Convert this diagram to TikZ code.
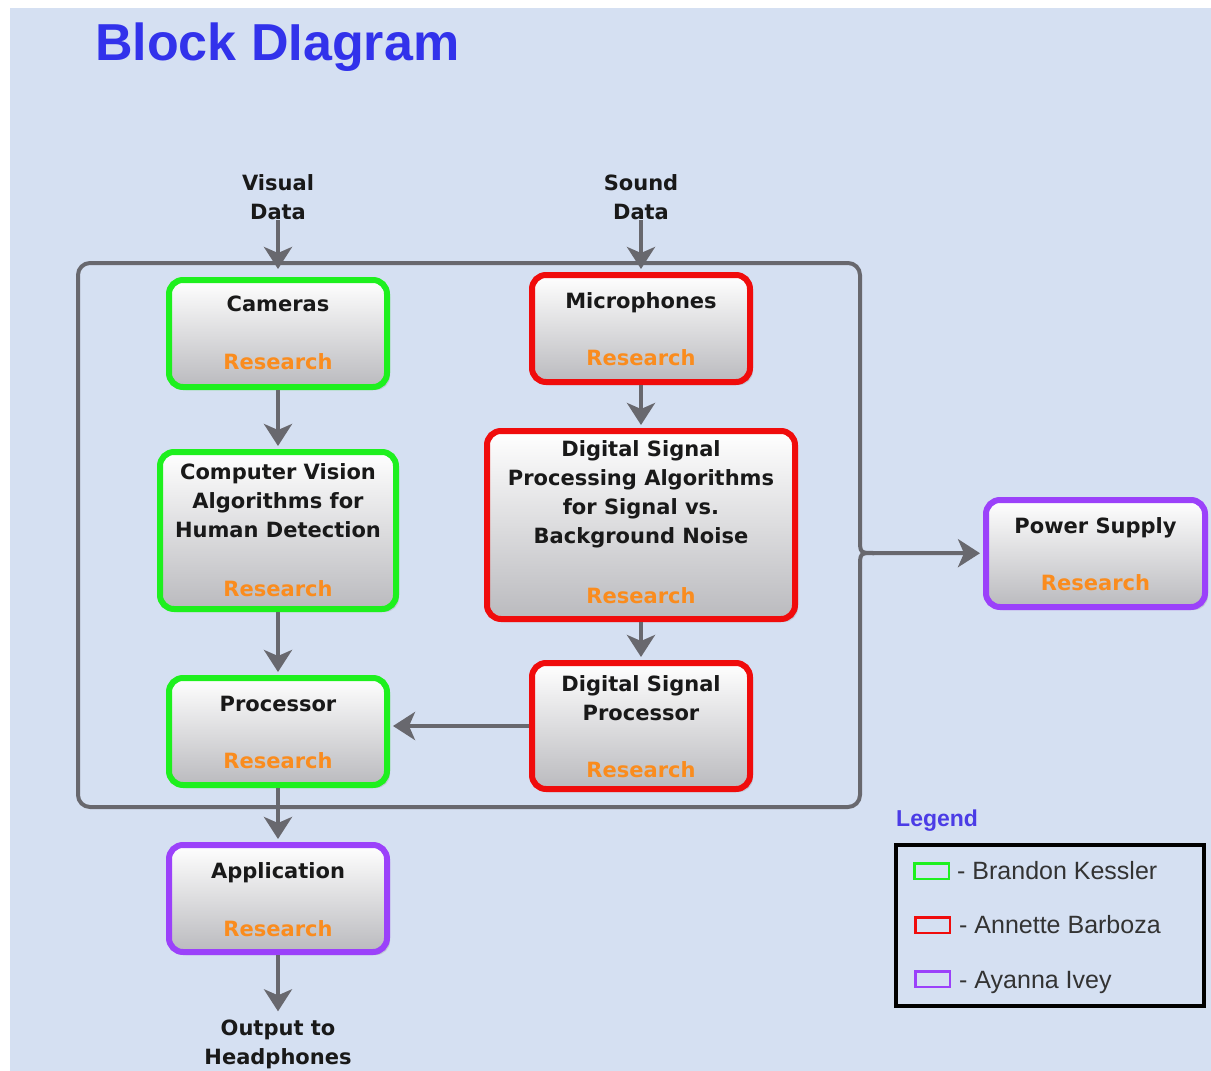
\documentclass[tikz,border=0pt]{standalone}
\usepackage{fontspec}
\newfontfamily\dv{DejaVu Sans}
\newfontfamily\lib{Liberation Sans}
\usetikzlibrary{arrows.meta,shadows}
\definecolor{bgblue}{RGB}{213,224,242}
\definecolor{bgreen}{RGB}{30,240,30}
\definecolor{bred}{RGB}{240,12,12}
\definecolor{bpurple}{RGB}{155,65,250}
\definecolor{conngray}{RGB}{104,104,110}
\definecolor{resorange}{RGB}{250,140,30}
\definecolor{titleblue}{RGB}{50,50,235}
\definecolor{legblue}{RGB}{75,60,230}
\definecolor{boxgray}{RGB}{186,186,190}
\tikzset{
  box/.style={rounded corners=14pt, line width=6pt, draw=#1, top color=white, bottom color=boxgray,
    drop shadow={shadow xshift=3pt,shadow yshift=-3pt,opacity=0.25}, inner sep=0pt},
  lbl/.style={font=\dv\bfseries\fontsize{21}{29}\selectfont, inner sep=0pt, align=center, text=black!90},
  res/.style={lbl, text=resorange},
  conn/.style={draw=conngray, line width=4pt, shorten >=3pt, -{Stealth[length=22pt,width=28pt,inset=6pt]}},
  framestyle/.style={draw=conngray, line width=4pt, line cap=round, line join=round},
  legtxt/.style={font=\lib\fontsize{25}{28}\selectfont, text=black!80, inner sep=0pt, anchor=base west},
  swatch/.style={draw=#1, line width=2.5pt, minimum width=34.5pt, minimum height=15.5pt, inner sep=0pt}
}
\begin{document}
\begin{tikzpicture}[x=1pt,y=-1pt]
\useasboundingbox (0,0) rectangle (1211,1071);
\fill[white] (0,0) rectangle (1211,1071);
\fill[bgblue] (10,8) rectangle (1211,1071);

% title
\node[font=\lib\bfseries\fontsize{52}{60}\selectfont, text=titleblue, anchor=base west, inner sep=0pt] (title) at (95,60) {Block DIagram};

% frame
\draw[framestyle, rounded corners=12pt] (860,538) -- (860,263) -- (78,263) -- (78,807) -- (860,807) -- (860,568);
\draw[framestyle] (860,538) .. controls (860,553) .. (874,553);
\draw[framestyle] (860,568) .. controls (860,553) .. (874,553);
\coordinate (junc) at (872,553);

% boxes
\node[box=bgreen, minimum width=218pt, minimum height=107pt] (cam) at (278,333.5) {};
\node[lbl, anchor=base] (camT) at (278,311) {Cameras};
\node[res, anchor=base] (camR) at (278,369) {Research};

\node[box=bgreen, minimum width=236pt, minimum height=157pt] (cv) at (278,530.5) {};
\node[lbl] (cvT) at (278,501) {Computer Vision\\Algorithms for\\Human Detection};
\node[res, anchor=base] (cvR) at (278,596) {Research};

\node[box=bgreen, minimum width=218pt, minimum height=107pt] (proc) at (278,731.5) {};
\node[lbl, anchor=base] (procT) at (278,711) {Processor};
\node[res, anchor=base] (procR) at (278,768) {Research};

\node[box=bpurple, minimum width=218pt, minimum height=107pt] (app) at (278,898.5) {};
\node[lbl, anchor=base] (appT) at (278,878) {Application};
\node[res, anchor=base] (appR) at (278,936) {Research};

\node[box=bred, minimum width=218pt, minimum height=107pt] (mic) at (641,328.5) {};
\node[lbl, anchor=base] (micT) at (641,308) {Microphones};
\node[res, anchor=base] (micR) at (641,365) {Research};

\node[box=bred, minimum width=308pt, minimum height=188pt] (dspa) at (641,525) {};
\node[lbl] (dspaT) at (641,494.5) {Digital Signal\\Processing Algorithms\\for Signal vs.\\Background Noise};
\node[res, anchor=base] (dspaR) at (641,603) {Research};

\node[box=bred, minimum width=218pt, minimum height=126pt] (dsp) at (641,726) {};
\node[lbl] (dspT) at (641,698) {Digital Signal\\Processor};
\node[res, anchor=base] (dspR) at (641,777) {Research};

\node[box=bpurple, minimum width=219pt, minimum height=107pt] (pow) at (1095.5,553.5) {};
\node[lbl, anchor=base] (powT) at (1095.5,533) {Power Supply};
\node[res, anchor=base] (powR) at (1095.5,590) {Research};

% outside labels
\node[lbl] (vis) at (278,197) {Visual\\Data};
\node[lbl] (snd) at (641,197) {Sound\\Data};
\node[lbl] (out) at (278,1044) {Output to\\Headphones};

% connectors
\draw[conn, shorten >=8pt] (vis.south) -- (vis.south |- cam.north);
\draw[conn] (snd.south) -- (snd.south |- mic.north);
\draw[conn] (cam) -- (cv);
\draw[conn] (cv) -- (proc);
\draw[conn] (mic) -- (dspa);
\draw[conn] (dspa) -- (dsp);
\draw[conn] (dsp.west) -- (dsp.west -| proc.east);
\draw[conn] (proc) -- (app);
\draw[conn, shorten >=8pt] (app.south) -- (app.south |- out.north);
\draw[conn] (junc) -- (pow);

% legend
\node[font=\lib\bfseries\fontsize{23}{28}\selectfont, text=legblue, anchor=base west, inner sep=0pt] (legT) at (896,826) {Legend};
\node[draw=black, line width=4pt, minimum width=308pt, minimum height=161pt, inner sep=0pt] (legBox) at (1050,925.5) {};
\node[swatch=bgreen] (sw1) at (931.5,871) {};
\node[swatch=bred] (sw2) at (932.5,925) {};
\node[swatch=bpurple] (sw3) at (932.5,979) {};
\node[legtxt] (lt1) at (957,879) {- Brandon Kessler};
\node[legtxt] (lt2) at (959,933) {- Annette Barboza};
\node[legtxt] (lt3) at (959,988) {- Ayanna Ivey};
\end{tikzpicture}
\end{document}
